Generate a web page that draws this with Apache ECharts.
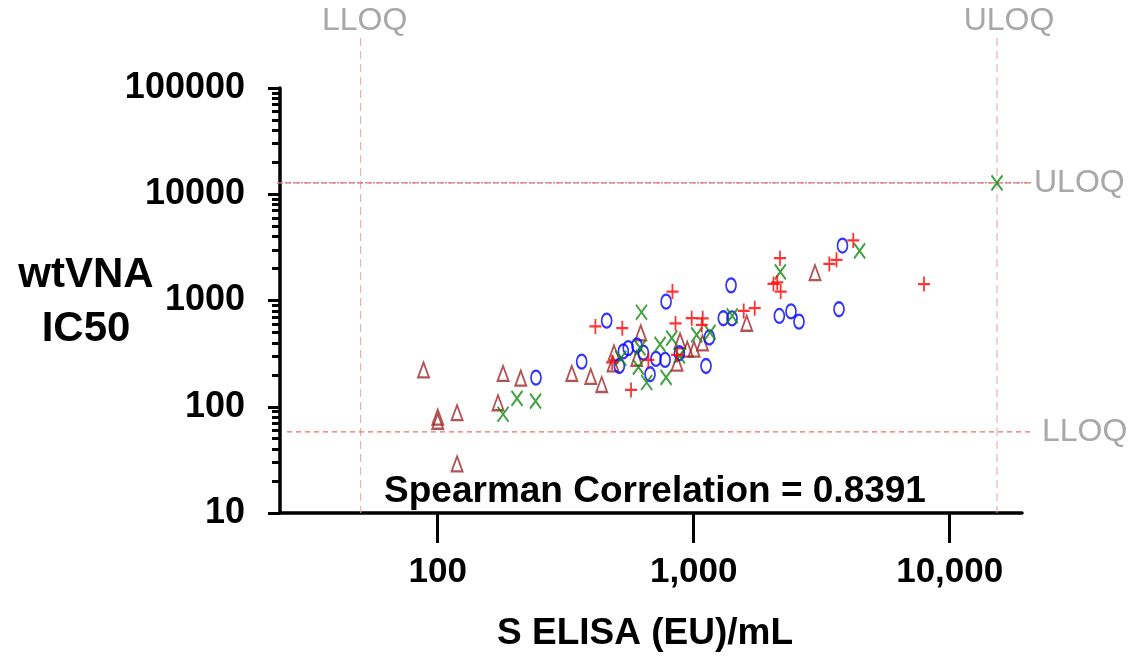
<!DOCTYPE html>
<html><head><meta charset="utf-8">
<script src="https://cdn.jsdelivr.net/npm/echarts@6/dist/echarts.min.js"></script>
<style>html,body{margin:0;padding:0;background:#fff}#c{width:1129px;height:656px}</style>
</head><body><div id="c"></div>
<script>
// ---- data ----
const xTicks = [100, 1000, 10000];
const xTickLabels = {100: '100', 1000: '1,000', 10000: '10,000'};
const yTicks = [10, 100, 1000, 10000, 100000];
const yMinorTicks = [];
[10, 100, 1000, 10000].forEach(d => { for (let k = 2; k <= 9; k++) yMinorTicks.push(k * d); });

const xTitle = 'S ELISA (EU)/mL';
const yTitle = 'wtVNA\nIC50';
const corrText = 'Spearman Correlation = 0.8391';

const lloqX = 50, uloqX = 15300;   // S ELISA limits
const lloqY = 58, uloqY = 12800;   // wtVNA limits

// red plus
const plusPts = [[413,570],[526,549],[826,1213],[480,261],[665,276],[569,144],[849,609],[861,307],
  [982,681],[1084,679],[1075,589],[1568,798],[1731,846],[2173,2502],[2049,1433],[2120,1480],
  [2187,1213],[3386,2211],[3612,2412],[4201,3679],[7937,1427]];
// blue circle
const circlePts = [[242,188],[365,266],[457,647],[780,976],[512,242],[531,332],[555,356],[600,378],
  [636,323],[675,202],[712,282],[773,276],[879,319],[1117,242],[1151,449],[1305,681],[1411,679],
  [1399,1388],[2160,716],[2399,790],[2578,633],[3694,828],[3812,3288]];
// green x
const crossPts = [[180,85],[204,120],[241,113],[625,776],[519,286],[617,358],[608,236],[655,169],
  [739,386],[780,189],[821,442],[879,301],[1027,474],[1158,501],[1414,716],[2179,1859],[4446,2931],
  [15300,12800]];
// brown triangle
const triPts = [[88,222],[100,80],[100,73],[119,88],[119,29],[180,206],[172,109],[211,186],[334,206],
  [396,193],[437,162],[488,321],[484,253],[621,496],[599,286],[861,257],[884,417],[944,348],[1003,348],
  [1082,399],[1611,611],[2977,1827]];

// ---- chart ----
const FONT = 'Liberation Sans, Arial, sans-serif';
const chart = echarts.init(document.getElementById('c'), null, {renderer: 'canvas'});
const X_MIN = 24.2, X_MAX = 19160;
const hollow = 'rgba(0,0,0,0)';
function sc(name, data, symbol, size, color, bw) {
  return {
    type: 'scatter', name, data, symbol, symbolSize: size,
    itemStyle: {color: hollow, borderColor: color, borderWidth: bw},
    emphasis: {disabled: true}, silent: true, z: 3
  };
}
chart.setOption({
  animation: false,
  backgroundColor: '#fff',
  grid: {left: 280, right: 107, top: 88, bottom: 143, containLabel: false},
  xAxis: [{
    type: 'log', logBase: 10, min: X_MIN, max: X_MAX,
    axisLine: {show: true, onZero: false, lineStyle: {color: '#000', width: 3.5}},
    axisTick: {show: true, customValues: xTicks, length: 30, lineStyle: {color: '#000', width: 3}},
    axisLabel: {customValues: xTicks, margin: 42, color: '#000', fontSize: 35, fontWeight: 'bold', fontFamily: FONT,
      formatter: v => xTickLabels[Math.round(v)] || ''},
    splitLine: {show: false}, minorTick: {show: false}
  }],
  yAxis: [{
    type: 'log', logBase: 10, min: 10, max: 100000,
    axisLine: {show: true, onZero: false, lineStyle: {color: '#000', width: 3.5}},
    axisTick: {show: true, customValues: yTicks, length: 12, lineStyle: {color: '#000', width: 3}},
    axisLabel: {customValues: yTicks, margin: 35, color: '#000', fontSize: 36, fontWeight: 'bold', fontFamily: FONT,
      formatter: v => String(Math.round(v))},
    splitLine: {show: false}
  }, {
    type: 'log', logBase: 10, min: 10, max: 100000, position: 'left',
    axisLine: {show: false},
    axisTick: {show: true, customValues: yMinorTicks, length: 8, lineStyle: {color: '#000', width: 3}},
    axisLabel: {show: false},
    splitLine: {show: false}
  }],
  series: [
    sc('triangle', triPts, 'triangle', [11, 15], '#a0282a', 2),
    sc('circle', circlePts, 'circle', [10, 14], '#0000ff', 2),
    sc('cross', crossPts, 'path://M0,0L10,10M10,0L0,10', [11, 15], '#108a10', 2),
    sc('plus', plusPts, 'path://M5,0L5,10M0,5L10,5', [12, 15], '#ff0000', 2)
  ]
});

// reference lines and texts positioned through the chart's own scales
const p = v => chart.convertToPixel({gridIndex: 0}, v);
const xL = p([lloqX, 10])[0], xU = p([uloqX, 10])[0];
const yL = p([100, lloqY])[1], yU = p([100, uloqY])[1];
const gLeft = p([X_MIN, 10])[0], gBottom = p([100, 10])[1];
const lineEnd = 1031;
const vStyle = {stroke: '#e8a0a0', lineWidth: 1, lineDash: [8, 5]};
const hRed = {stroke: '#f07070', lineWidth: 1.3, lineDash: [5, 4]};
const gray = '#a8a8a8';
const gText = (text, x, y, align) => ({type: 'text', x, y, silent: true,
  style: {text, fill: gray, font: '32px ' + FONT, textAlign: align, textVerticalAlign: 'middle'}});
chart.setOption({graphic: [
  {type: 'line', z: 1, silent: true, shape: {x1: xL, y1: 38, x2: xL, y2: gBottom}, style: vStyle},
  {type: 'line', z: 1, silent: true, shape: {x1: xU, y1: 38, x2: xU, y2: gBottom}, style: vStyle},
  {type: 'line', z: 1, silent: true, shape: {x1: gLeft - 3, y1: yU, x2: lineEnd, y2: yU},
    style: {stroke: '#a0a0a0', lineWidth: 1.5, lineDash: [2, 2]}},
  {type: 'line', z: 1, silent: true, shape: {x1: gLeft - 3, y1: yU, x2: lineEnd, y2: yU}, style: hRed},
  {type: 'line', z: 1, silent: true, shape: {x1: gLeft + 7, y1: yL, x2: lineEnd, y2: yL}, style: hRed},
  gText('LLOQ', xL + 4, 21, 'center'),
  gText('ULOQ', xU + 12, 21, 'center'),
  gText('ULOQ', lineEnd + 3, yU, 'left'),
  gText('LLOQ', lineEnd + 11, yL, 'left'),
  {type: 'text', x: 655, y: 492, silent: true, z: 5,
    style: {text: corrText, fill: '#000', font: 'bold 37px ' + FONT, textAlign: 'center', textVerticalAlign: 'middle'}},
  {type: 'text', x: 645, y: 634, silent: true,
    style: {text: xTitle, fill: '#000', font: 'bold 37px ' + FONT, textAlign: 'center', textVerticalAlign: 'middle'}},
  {type: 'text', x: 86, y: 302, silent: true,
    style: {text: yTitle, fill: '#000', font: 'bold 42px ' + FONT, lineHeight: 54, textAlign: 'center', textVerticalAlign: 'middle'}}
]});
</script>
</body></html>
